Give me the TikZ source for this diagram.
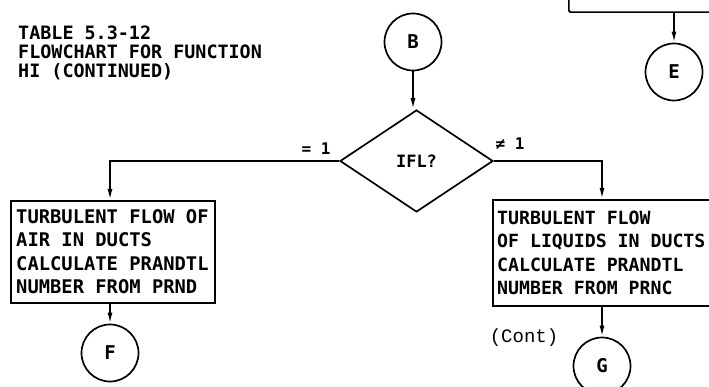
\documentclass[tikz,border=0pt]{standalone}
\usepackage{fontspec}
\newfontfamily\typefont[BoldFont={DejaVu Sans Mono Bold}]{DejaVu Sans Mono}
\newfontfamily\courfont{Liberation Mono}
\usetikzlibrary{shapes.geometric,arrows.meta}
\tikzset{
  conn/.style={line width=1.7pt,-{Latex[length=11pt,width=5pt]}},
  conncircle/.style={circle,draw,line width=1.7pt,minimum size=57pt,inner sep=0pt,font=\typefont\bfseries\fontsize{19}{19}\selectfont},
  procbox/.style={draw,line width=1.7pt,minimum width=204pt,minimum height=102pt,anchor=north west,inner sep=0pt},
  boxtext/.style={align=left,anchor=west,inner sep=0pt,font=\typefont\bfseries\fontsize{18.8}{23.5}\selectfont},
  decision/.style={diamond,draw,line width=1.7pt,minimum width=153pt,minimum height=102pt,inner sep=0pt,font=\typefont\bfseries\fontsize{17}{17}\selectfont},
  lbl/.style={font=\typefont\bfseries\fontsize{16}{16}\selectfont,inner sep=0pt},
  titletext/.style={font=\typefont\bfseries\fontsize{18.4}{19}\selectfont,align=left,anchor=north west,inner sep=0pt}
}
\begin{document}
\begin{tikzpicture}[x=1pt,y=-1pt]
\useasboundingbox (0,0) rectangle (709,387);
\clip (0,0) rectangle (709,387);
\node[titletext] (title) at (18,26) {TABLE 5.3-12\\FLOWCHART FOR FUNCTION\\HI (CONTINUED)};
% top right box (partial)
\node[draw,line width=1.7pt,rounded corners=2pt,minimum width=200pt,minimum height=60pt,anchor=south west,inner sep=0pt] (topbox) at (568,13) {};
\node[conncircle] (E) at (674,72) {E};
\draw[conn] (E |- topbox.south) -- (E.north);
% B and decision
\node[conncircle] (B) at (413,42) {B};
\node[decision] (dia) at (416.5,161) {IFL?};
\draw[conn] (B.south) -- (B.south |- dia.north);
% boxes
\node[procbox] (lbox) at (10,200) {};
\node[boxtext] (ltext) at ([xshift=6pt]lbox.west) {TURBULENT FLOW OF\\AIR IN DUCTS\\CALCULATE PRANDTL\\NUMBER FROM PRND};
\node[procbox,minimum width=240pt,minimum height=106pt] (rbox) at (492,199) {};
\node[boxtext,font=\typefont\bfseries\fontsize{18.2}{23.5}\selectfont] (rtext) at ([xshift=5pt]rbox.west) {TURBULENT FLOW\\OF LIQUIDS IN DUCTS\\CALCULATE PRANDTL\\NUMBER FROM PRNC};
\node[conncircle] (F) at (110,353) {F};
\node[conncircle] (G) at (602,366) {G};
% branches
\draw[conn] (dia.west) -| (F |- lbox.north);
\draw[conn] (dia.east) -| (G |- rbox.north);
\node[lbl] (eq) at (316,149) {= 1};
\node[lbl] (ne) at (510,144) {≠ 1};
\draw[conn] (F |- lbox.south) -- (F.north);
\draw[conn] (G |- rbox.south) -- (G.north);
\node[font=\courfont\fontsize{19}{19}\selectfont,inner sep=0pt] (cont) at (524,338) {(Cont)};
\end{tikzpicture}
\end{document}
